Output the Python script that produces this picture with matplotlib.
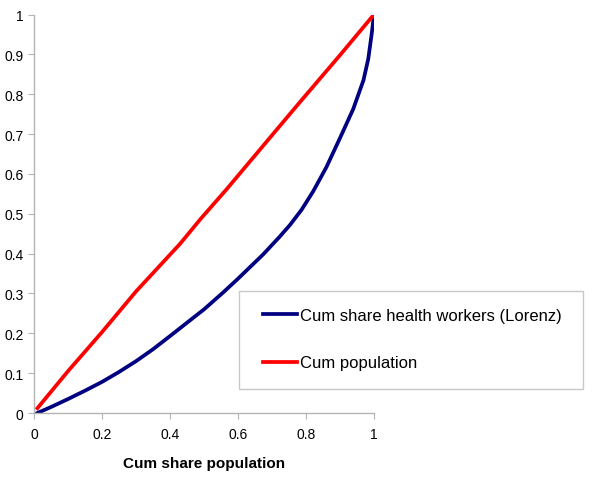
import numpy as np
import matplotlib.pyplot as plt
from matplotlib.patches import Rectangle

plt.rcParams['font.family'] = ['Liberation Sans', 'DejaVu Sans']

# Lorenz curve (cum share of health workers)
lorenz_x = [0.01, 0.05, 0.1, 0.15, 0.2, 0.25, 0.3, 0.35, 0.4, 0.47, 0.5, 0.557, 0.6,
            0.674, 0.72, 0.753, 0.787, 0.821, 0.86, 0.9, 0.939, 0.969, 0.983, 0.993, 1.0]
lorenz_y = [0.0, 0.015, 0.035, 0.056, 0.078, 0.103, 0.13, 0.16, 0.193, 0.24, 0.26,
            0.303, 0.337, 0.398, 0.44, 0.472, 0.51, 0.556, 0.617, 0.69, 0.763, 0.835,
            0.888, 0.95, 1.0]

# cumulative population
pop_x = [0.01, 0.1, 0.2, 0.3, 0.43, 0.49, 0.567, 0.7, 0.78, 0.9, 1.0]
pop_y = [0.012, 0.105, 0.203, 0.305, 0.425, 0.487, 0.562, 0.697, 0.778, 0.898, 1.0]

fig = plt.figure(figsize=(6, 4.81), dpi=100)
ax = fig.add_axes([34/600, 1 - 414/481, 340/600, 398.5/481])

ax.plot(lorenz_x, lorenz_y, color='#000080', lw=2.7, label='Cum share health workers (Lorenz)')
ax.plot(pop_x, pop_y, color='#ff0000', lw=2.7, label='Cum population')

ax.set_xlim(0, 1)
ax.set_ylim(0, 1)
ax.set_xticks(np.arange(0, 1.01, 0.2))
ax.set_xticklabels(['0', '0.2', '0.4', '0.6', '0.8', '1'])
ax.set_yticks(np.arange(0, 1.01, 0.1))
ax.set_yticklabels(['0', '0.1', '0.2', '0.3', '0.4', '0.5', '0.6', '0.7', '0.8', '0.9', '1'])

for s in ['top', 'right']:
    ax.spines[s].set_visible(False)
for s in ['left', 'bottom']:
    ax.spines[s].set_color('#b4b4b4')
    ax.spines[s].set_linewidth(1.0)
ax.tick_params(axis='both', direction='out', length=4, color='#b4b4b4',
               labelsize=10, labelcolor='black')
ax.tick_params(axis='x', pad=6)

ax.set_xlabel('Cum share population', fontsize=11, fontweight='bold', labelpad=11)

# legend box (Excel style) drawn as a frame, entries placed inside
fig.patches.append(Rectangle((239/600, 1 - 390/481), 344/600, 98/481,
                             transform=fig.transFigure, facecolor='white',
                             edgecolor='#c8c8c8', lw=1.0, zorder=3))
leg = fig.legend(loc='upper left', bbox_to_anchor=(263/600, 1 - 309/481),
                 fontsize=12, frameon=False, labelspacing=1.95, handlelength=2.05,
                 handletextpad=0.2, borderpad=0, borderaxespad=0)
leg.set_zorder(4)

fig.savefig('out.png', dpi=100)
